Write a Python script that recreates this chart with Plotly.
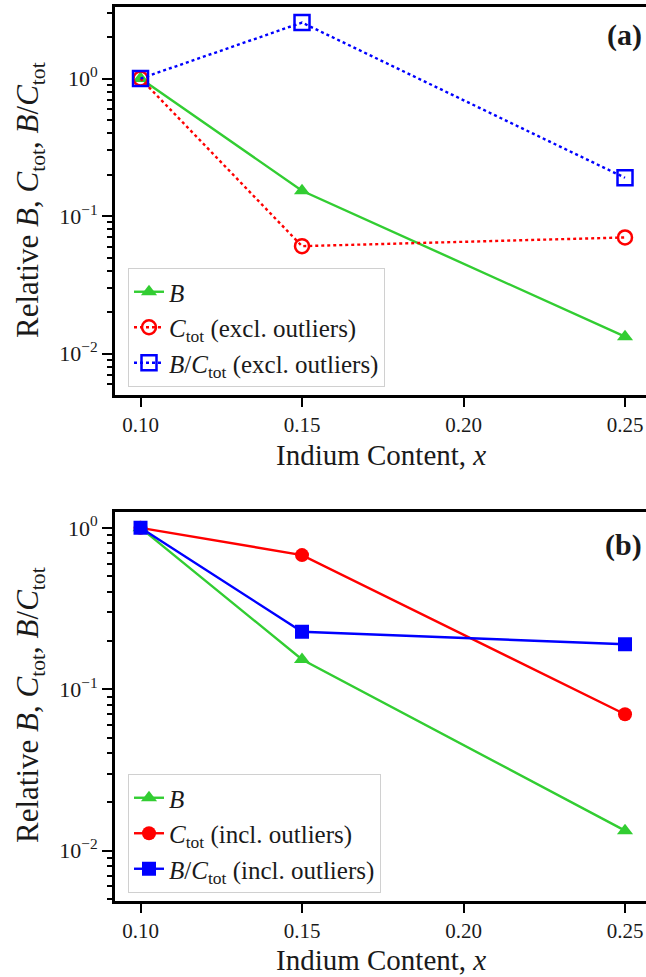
import numpy as np
import plotly.graph_objects as go

# ---------------- data ----------------
x_vals = [0.10, 0.15, 0.25]
B_vals = [1.0, 0.153, 0.0133]
C_excl = [1.0, 0.0605, 0.0700]
BC_excl = [1.0, 2.55, 0.190]
C_incl = [1.0, 0.678, 0.0700]
BC_incl = [1.0, 0.227, 0.190]

x_ticks = [0.10, 0.15, 0.20, 0.25]
x_tick_labels = ["0.10", "0.15", "0.20", "0.25"]
y_ticks = [0.01, 0.1, 1]
y_tick_labels = ["10<sup>−2</sup>", "10<sup>−1</sup>", "10<sup>0</sup>"]
minor_ticks = [m * 10.0 ** e for e in (-3, -2, -1, 0) for m in range(2, 10)]

x_title = "Indium Content, <i>x</i>"
y_title = "Relative <i>B</i>, <i>C</i><sub>tot</sub>, <i>B</i>/<i>C</i><sub>tot</sub>"
names_a = ["<i>B</i>", "<i>C</i><sub>tot</sub> (excl. outliers)",
           "<i>B</i>/<i>C</i><sub>tot</sub> (excl. outliers)"]
names_b = ["<i>B</i>", "<i>C</i><sub>tot</sub> (incl. outliers)",
           "<i>B</i>/<i>C</i><sub>tot</sub> (incl. outliers)"]
panel_labels = ["<b>(a)</b>", "<b>(b)</b>"]

GREEN = "#32CD32"
RED = "#FF0000"
BLUE = "#0000FF"
FONT = "Liberation Serif"
TXT = "#1a1a1a"

W, H = 646, 977

fig = go.Figure()

# ---- panel (a)
fig.add_trace(go.Scatter(x=x_vals, y=B_vals, name=names_a[0], mode="lines+markers",
                         line=dict(color=GREEN, width=2.4),
                         marker=dict(symbol="triangle-up", size=14, color=GREEN),
                         xaxis="x", yaxis="y", legend="legend"))
fig.add_trace(go.Scatter(x=x_vals, y=C_excl, name=names_a[1], mode="lines+markers",
                         line=dict(color=RED, width=2.4, dash="dot"),
                         marker=dict(symbol="circle-open", size=14, color=RED,
                                     line=dict(width=2.5, color=RED)),
                         xaxis="x", yaxis="y", legend="legend"))
fig.add_trace(go.Scatter(x=x_vals, y=BC_excl, name=names_a[2], mode="lines+markers",
                         line=dict(color=BLUE, width=2.4, dash="dot"),
                         marker=dict(symbol="square-open", size=15, color=BLUE,
                                     line=dict(width=2.5, color=BLUE)),
                         xaxis="x", yaxis="y", legend="legend"))

# ---- panel (b)
fig.add_trace(go.Scatter(x=x_vals, y=B_vals, name=names_b[0], mode="lines+markers",
                         line=dict(color=GREEN, width=2.4),
                         marker=dict(symbol="triangle-up", size=14, color=GREEN),
                         xaxis="x2", yaxis="y2", legend="legend2"))
fig.add_trace(go.Scatter(x=x_vals, y=C_incl, name=names_b[1], mode="lines+markers",
                         line=dict(color=RED, width=2.4),
                         marker=dict(symbol="circle", size=14, color=RED),
                         xaxis="x2", yaxis="y2", legend="legend2"))
fig.add_trace(go.Scatter(x=x_vals, y=BC_incl, name=names_b[2], mode="lines+markers",
                         line=dict(color=BLUE, width=2.4),
                         marker=dict(symbol="square", size=14, color=BLUE),
                         xaxis="x2", yaxis="y2", legend="legend2"))

ML = 115
plot_w = W - ML


def ydom(top_px, bot_px):
    return [(H - bot_px) / H, (H - top_px) / H]


def px_x(px):
    return (px - ML) / plot_w


def px_y(py):
    return (H - py) / H


xaxis_common = dict(
    range=[0.0921, 0.2565], tickvals=x_ticks, ticktext=x_tick_labels,
    ticks="outside", ticklen=9, tickwidth=2, tickcolor="black",
    showline=True, linecolor="black", linewidth=3, mirror=True,
    showgrid=False, zeroline=False, automargin=False,
    tickfont=dict(family=FONT, size=21, color=TXT),
)
yaxis_common = dict(
    type="log", tickvals=y_ticks, ticktext=y_tick_labels,
    ticks="outside", ticklen=10, tickwidth=2, tickcolor="black",
    showline=True, linecolor="black", linewidth=3, mirror=False,
    showgrid=False, zeroline=False, automargin=False,
    minor=dict(tickmode="array", tickvals=minor_ticks, ticks="outside",
               ticklen=5, tickwidth=1.5, tickcolor="black", showgrid=False),
    tickfont=dict(family=FONT, size=22, color=TXT),
)

legend_common = dict(
    bgcolor="rgba(255,255,255,0.85)", bordercolor="#d0d0d0", borderwidth=1,
    font=dict(family=FONT, size=25, color=TXT),
    xanchor="left", yanchor="bottom", itemwidth=30, tracegroupgap=0,
)

annotations = []
for lbl, ly in zip(panel_labels, [35, 545]):
    annotations.append(dict(text=lbl, xref="paper", yref="paper", x=px_x(644),
                            y=px_y(ly), xanchor="right", yanchor="middle", showarrow=False,
                            font=dict(family=FONT, size=30, color=TXT)))
for ty in [455, 960]:
    annotations.append(dict(text=x_title, xref="paper", yref="paper", x=px_x(381),
                            y=px_y(ty), xanchor="center", yanchor="middle", showarrow=False,
                            font=dict(family=FONT, size=29, color=TXT)))
for ty in [200, 705]:
    annotations.append(dict(text=y_title, xref="paper", yref="paper", x=px_x(30),
                            y=px_y(ty), xanchor="center", yanchor="middle", showarrow=False,
                            textangle=-90, font=dict(family=FONT, size=31, color=TXT)))

fig.update_layout(
    width=W, height=H,
    margin=dict(l=ML, r=0, t=0, b=0),
    paper_bgcolor="white", plot_bgcolor="white",
    font=dict(family=FONT, color=TXT),
    xaxis=dict(domain=[0, 1], anchor="y", **xaxis_common),
    yaxis=dict(domain=ydom(7, 395), anchor="x", range=[-2.30, 0.52], **yaxis_common),
    xaxis2=dict(domain=[0, 1], anchor="y2", **xaxis_common),
    yaxis2=dict(domain=ydom(511.7, 900.7), anchor="x2", range=[-2.31, 0.10], **yaxis_common),
    legend=dict(x=px_x(128), y=px_y(387), **legend_common),
    legend2=dict(x=px_x(128), y=px_y(893), **legend_common),
    showlegend=True,
    annotations=annotations,
)

fig.write_html("out.html", config={"displayModeBar": False},
               post_script="document.body.style.margin='0px';document.body.style.overflow='hidden';")
